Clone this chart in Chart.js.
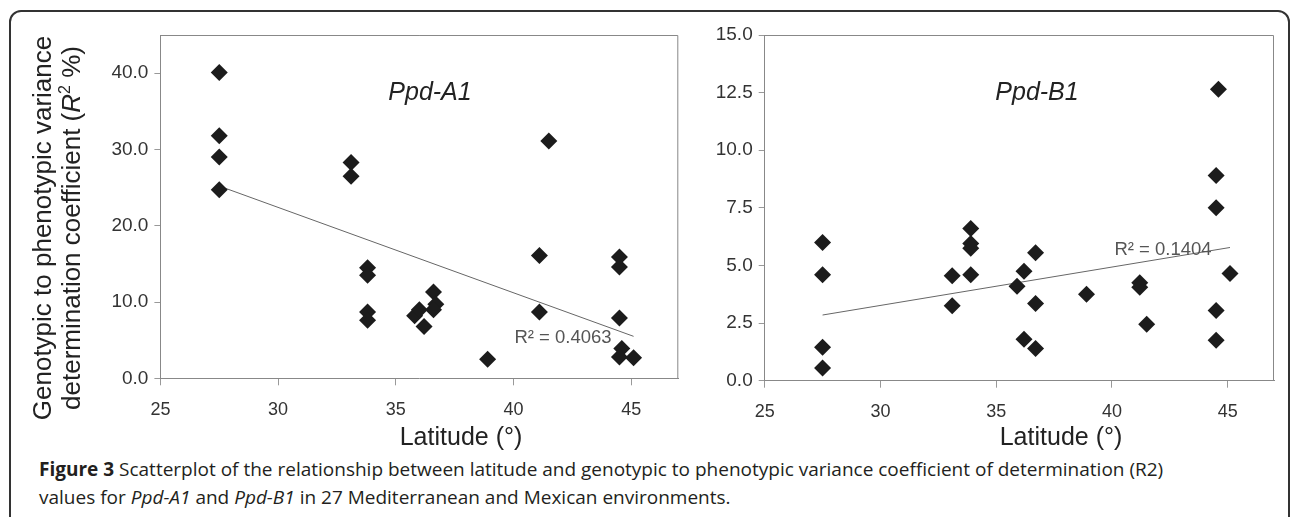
<!DOCTYPE html>
<html>
<head>
<meta charset="utf-8">
<script src="https://cdn.jsdelivr.net/npm/chart.js@4.4.0/dist/chart.umd.min.js"></script>
<style>
body { margin: 0; background: #fff; width: 1292px; height: 517px; overflow: hidden; position: relative; }
#frame { position: absolute; left: 9px; top: 10px; width: 1281px; height: 540px; border: 2px solid #333; border-radius: 12px; box-sizing: border-box; }
#boxA { position: absolute; left: 0; top: 0; }
#boxB { position: absolute; left: 690px; top: 0; }
#caption { position: absolute; left: 39px; top: 455px; font-family: "Open Sans", sans-serif; font-size: 19px; line-height: 28px; color: #231f20; white-space: nowrap; }
</style>
</head>
<body>
<div id="frame"></div>
<div id="boxA"><canvas id="chartA" width="690" height="450"></canvas></div>
<div id="boxB"><canvas id="chartB" width="602" height="450"></canvas></div>
<div id="caption"><b>Figure 3</b> Scatterplot of the relationship between latitude and genotypic to phenotypic variance coefficient of determination (R2)<br>values for <i>Ppd-A1</i> and <i>Ppd-B1</i> in 27 Mediterranean and Mexican environments.</div>
<script>
// latitude of each environment and R2 (%) for each gene
const latA = [27.5, 27.5, 27.5, 27.5, 33.1, 33.1, 33.8, 33.8, 33.8, 33.8, 35.8, 36.0, 36.2, 36.6, 36.7, 36.6, 38.9, 41.1, 41.1, 41.5, 44.5, 44.5, 44.5, 44.6, 44.5, 45.1];
const r2A  = [40.1, 31.8, 29.0, 24.7, 28.3, 26.5, 14.5, 13.5, 8.7, 7.6, 8.2, 9.0, 6.8, 11.3, 9.7, 9.0, 2.5, 16.1, 8.7, 31.1, 15.9, 14.6, 7.9, 3.9, 2.8, 2.7];

const latB = [27.5, 27.5, 27.5, 27.5, 33.1, 33.1, 33.9, 33.9, 33.9, 33.9, 35.9, 36.2, 36.2, 36.7, 36.7, 36.7, 38.9, 41.2, 41.2, 41.5, 44.6, 44.5, 44.5, 44.5, 44.5, 45.1];
const r2B  = [6.0, 4.6, 1.45, 0.55, 4.55, 3.25, 6.6, 5.95, 5.75, 4.6, 4.1, 4.75, 1.8, 5.55, 3.35, 1.4, 3.75, 4.25, 4.05, 2.45, 12.65, 8.9, 7.5, 3.05, 1.75, 4.65];

// linear trendlines (start and end)
const trendLat = [27.5, 45.1];
const trendA = [25.2, 5.5];
const trendB = [2.85, 5.78];

const xTicks = [25, 30, 35, 40, 45];
const yTicksA = [0, 10, 20, 30, 40];
const yTicksB = [0, 2.5, 5, 7.5, 10, 12.5, 15];

const decor = {
    id: 'decor',
    afterDraw(chart, args, o) {
        const ctx = chart.ctx;
        const a = chart.chartArea;
        ctx.save();
        // top and right edges of the plot box
        ctx.strokeStyle = '#888';
        ctx.lineWidth = 1;
        ctx.beginPath();
        ctx.moveTo(a.left, a.top + 0.5);
        ctx.lineTo(a.right - 0.5, a.top + 0.5);
        ctx.lineTo(a.right - 0.5, a.bottom);
        ctx.stroke();

        ctx.textAlign = 'center';
        ctx.fillStyle = '#222';
        ctx.font = 'italic 25px "Liberation Sans", Arial';
        ctx.fillText(o.gene, o.geneX, 100);

        ctx.fillStyle = '#555';
        ctx.font = '18.5px "Liberation Sans", Arial';
        ctx.textBaseline = 'middle';
        ctx.fillText('R² = ' + o.r2, o.r2X, o.r2Y);

        ctx.textBaseline = 'alphabetic';
        ctx.fillStyle = '#222';
        ctx.font = '25px "Liberation Sans", Arial';
        ctx.fillText('Latitude (°)', o.latX, 445);

        if (o.yTitle) {
            ctx.translate(0, 228);
            ctx.rotate(-Math.PI / 2);
            ctx.textBaseline = 'middle';
            ctx.font = '26px "Liberation Sans", Arial';
            ctx.fillText('Genotypic to phenotypic variance', 0, 44);
            const parts = [
                ['determination coefficient (', '26px "Liberation Sans", Arial', 0],
                ['R', 'italic 26px "Liberation Sans", Arial', 0],
                ['2', '16px "Liberation Sans", Arial', -7],
                [' %)', '26px "Liberation Sans", Arial', 0]
            ];
            let total = 0;
            parts.forEach(p => { ctx.font = p[1]; total += ctx.measureText(p[0]).width; });
            let x = -total / 2;
            ctx.textAlign = 'left';
            parts.forEach(p => {
                ctx.font = p[1];
                ctx.fillText(p[0], x, 73 + p[2]);
                x += ctx.measureText(p[0]).width;
            });
        }
        ctx.restore();
    }
};

function makeChart(id, lat, vals, trend, yTicks, yMax, box) {
    const ctx = document.getElementById(id).getContext('2d');
    return new Chart(ctx, {
        type: 'scatter',
        data: {
            datasets: [
                {
                    data: lat.map((x, i) => ({ x: x, y: vals[i] })),
                    pointStyle: 'rectRot',
                    pointRadius: 8.5,
                    backgroundColor: '#1c1c1c',
                    borderWidth: 0,
                    order: 0
                },
                {
                    data: trendLat.map((x, i) => ({ x: x, y: trend[i] })),
                    showLine: true,
                    pointRadius: 0,
                    borderColor: '#666',
                    borderWidth: 1,
                    order: 1
                }
            ]
        },
        options: {
            responsive: false,
            animation: false,
            layout: { padding: { left: 0, top: 35, right: box.right, bottom: 0 } },
            scales: {
                x: {
                    type: 'linear',
                    min: 25,
                    max: 47,
                    afterBuildTicks: axis => { axis.ticks = xTicks.map(v => ({ value: v })); },
                    afterFit: scale => { scale.height = box.xHeight; },
                    ticks: { color: '#333', font: { family: '"Liberation Sans", Arial', size: 18 }, padding: 14, maxRotation: 0 },
                    grid: { drawOnChartArea: false, tickLength: 7, color: '#999' },
                    border: { color: '#888' }
                },
                y: {
                    min: 0,
                    max: yMax,
                    afterBuildTicks: axis => { axis.ticks = yTicks.map(v => ({ value: v })); },
                    afterFit: scale => { scale.width = box.yWidth; },
                    ticks: { color: '#333', font: { family: '"Liberation Sans", Arial', size: 19 }, padding: 6, callback: v => v.toFixed(1) },
                    grid: { drawOnChartArea: false, tickLength: 6, color: '#999' },
                    border: { color: '#888' }
                }
            },
            plugins: {
                legend: { display: false },
                tooltip: { enabled: false },
                decor: box.decor
            }
        },
        plugins: [decor]
    });
}

makeChart('chartA', latA, r2A, trendA, yTicksA, 45, {
    right: 11.7, xHeight: 71.7, yWidth: 160.4,
    decor: { gene: 'Ppd-A1', geneX: 430, r2: '0.4063', r2X: 563, r2Y: 338, latX: 461, yTitle: true }
});
makeChart('chartB', latB, r2B, trendB, yTicksB, 15, {
    right: 18, xHeight: 69.3, yWidth: 74.7,
    decor: { gene: 'Ppd-B1', geneX: 347, r2: '0.1404', r2X: 473, r2Y: 250, latX: 371, yTitle: false }
});
</script>
</body>
</html>
